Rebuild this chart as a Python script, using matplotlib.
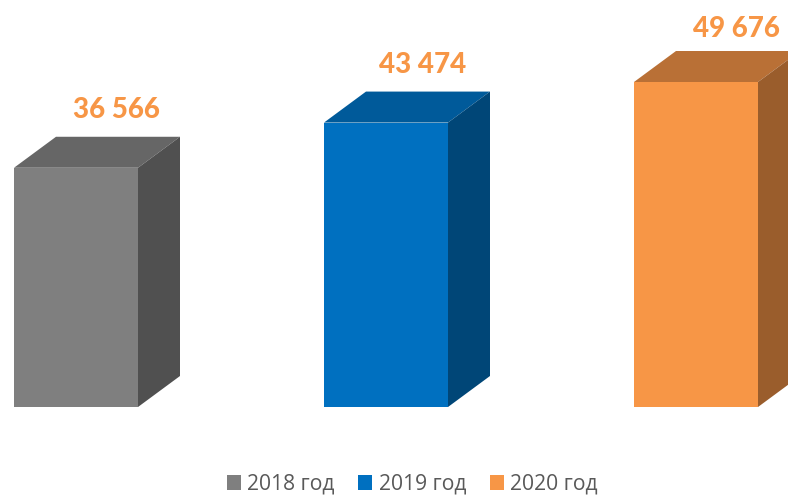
import matplotlib
matplotlib.use("Agg")
import matplotlib.pyplot as plt
from matplotlib.patches import Polygon, Rectangle, Patch

years = ["2018 год", "2019 год", "2020 год"]
values = [36566, 43474, 49676]
value_labels = ["36 566", "43 474", "49 676"]
front = ["#7F7F7F", "#0070C0", "#F79646"]
top = ["#666666", "#005A9A", "#B97036"]
side = ["#505050", "#004677", "#9A5D2C"]

W, H = 788, 495
fig = plt.figure(figsize=(W/100, H/100), dpi=100)
ax = fig.add_axes([0, 0, 1, 1])
ax.set_xlim(0, W)
base_px = 407
scale = (407 - 82) / 49676
ax.set_ylim((base_px - H) / scale, base_px / scale)
ax.axis("off")

x0s = [14, 324, 634]
label_dx = [40.5, 37, 40]
label_dy = [58, 58, 53]
bw = 124
dx, dy_val = 42, 31 / scale

for x, v, lab, f, t, s, ldx, ldy in zip(x0s, values, value_labels, front, top, side, label_dx, label_dy):
    ax.add_patch(Rectangle((x, 0), bw, v, fc=f, ec="none"))
    ax.add_patch(Polygon([(x, v), (x+bw, v), (x+bw+dx, v+dy_val), (x+dx, v+dy_val)], fc=t, ec="none"))
    ax.add_patch(Polygon([(x+bw, 0), (x+bw+dx, dy_val), (x+bw+dx, v+dy_val), (x+bw, v)], fc=s, ec="none"))
    ax.text(x + bw/2 + ldx, v + ldy/scale, lab, ha="center", va="center", color="#F79646",
            fontsize=20, fontweight="black", family="Lato", clip_on=False)

handles = [Patch(color=c, lw=0) for c in front]
fig.legend(handles, years, loc="lower left", ncol=3, frameon=False,
           labelcolor="#595959", prop={"family": "Open Sans", "size": 15.2},
           bbox_to_anchor=(227/W, 0.0), borderaxespad=0, borderpad=0,
           handlelength=0.67, handleheight=0.67, handletextpad=0.29, columnspacing=1.12)
fig.savefig("out.png", dpi=100)
